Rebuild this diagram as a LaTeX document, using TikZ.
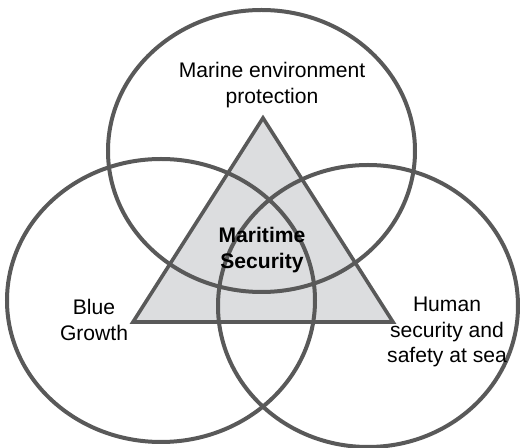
\documentclass[tikz,border=0pt]{standalone}
\usepackage{fontspec}
\setmainfont{Liberation Sans}
\usepackage{tikz}
\usetikzlibrary{positioning}
\definecolor{ring}{HTML}{595959}
\definecolor{core}{HTML}{DCDDDF}

\tikzset{
  ringline/.style={draw=ring, line width=1mm},
  label/.style={font=\fontsize{15}{18}\selectfont, align=center, text=black},
}

\begin{document}
\begin{tikzpicture}[x=0.25mm, y=-0.25mm]
  \useasboundingbox (0,0) rectangle (520,448);
  % triangle in the middle
  \coordinate (apex) at (263,118);
  \coordinate (baseL) at (133,322);
  \coordinate (baseR) at (393,322);
  \fill[core] (apex) -- (baseL) -- (baseR) -- cycle;
  % the three rings
  \draw[ringline] (261.5,151) ellipse (153.5 and 141);
  \draw[ringline] (161,300.5) ellipse (154 and 141.5);
  \draw[ringline] (368,306) ellipse (150 and 141);
  \draw[draw=ring, line width=0.9mm, line join=miter] (apex) -- (baseL) -- (baseR) -- cycle;
  % labels
  \node[label] (marine) at (272,85) {Marine environment\\protection};
  \node[label, font=\fontsize{15}{18}\selectfont\bfseries] (maritime) at (262,250) {Maritime\\Security};
  \node[label] (blue) at (94,320) {Blue\\Growth};
  \node[label] (human) at (447,332) {Human\\security and\\safety at sea};
\end{tikzpicture}
\end{document}
